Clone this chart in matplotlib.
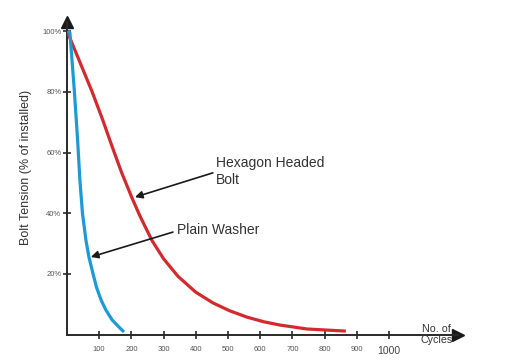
import matplotlib
matplotlib.use('Agg')
import matplotlib.pyplot as plt

plt.rcParams['font.family'] = ['Liberation Sans', 'DejaVu Sans']

# values (cycles, % of installed tension)
hex_cycles = [0, 39, 78, 110, 140, 170, 202, 227, 264, 300, 345, 400, 453, 505, 559, 610, 661, 745, 866]
hex_tension = [100, 90, 80, 71, 62, 53.3, 45, 39, 31, 25, 19.2, 14, 10.5, 7.9, 5.8, 4.3, 3.2, 1.9, 1.2]

washer_cycles = [3, 9, 23, 33, 40, 48, 59, 68, 81, 92, 106, 121, 140, 158, 177]
washer_tension = [100, 99.5, 80, 64, 51, 40, 31, 25.6, 20, 15.5, 11.4, 8.1, 4.9, 2.9, 0.9]

x_ticks = [100, 200, 300, 400, 500, 600, 700, 800, 900, 1000]
y_ticks = [20, 40, 60, 80, 100]
y_labels = ['20%', '40%', '60%', '80%', '100%']

x_max, y_max = 1215, 103
px_x, px_y = 0.322, 3.0375  # pixels per data unit

fig = plt.figure(figsize=(5.1, 3.6), dpi=100)
ax = fig.add_axes([67 / 510, 25.25 / 360, x_max * px_x / 510, y_max * px_y / 360])

ax.plot(hex_cycles, hex_tension, color='#d42a2e', lw=2.3, solid_capstyle='butt', zorder=3)
ax.plot(washer_cycles, washer_tension, color='#1c9ad8', lw=2.3, solid_capstyle='butt', zorder=3)

ax.set_xlim(0, x_max)
ax.set_ylim(0, y_max)

for s in ['top', 'right']:
    ax.spines[s].set_visible(False)
for s in ['left', 'bottom']:
    ax.spines[s].set_color('#2a2a2a')
    ax.spines[s].set_linewidth(1.4)

# arrow heads on the axes
ax.plot(1, 0, '>', color='#1a1a1a', ms=8, transform=ax.get_yaxis_transform(), clip_on=False)
ax.plot(0, 1, '^', color='#1a1a1a', ms=8, transform=ax.get_xaxis_transform(), clip_on=False)

ax.set_xticks(x_ticks)
ax.set_xticklabels([str(t) for t in x_ticks])
ax.set_yticks(y_ticks)
ax.set_yticklabels(y_labels)
ax.tick_params(axis='both', direction='inout', length=6, width=1.2, color='#2a2a2a',
               labelsize=5.5, labelcolor='#555555')
ax.tick_params(axis='x', pad=5)
ax.tick_params(axis='y', pad=1)
big = ax.get_xticklabels()[-1]
big.set_fontsize(7.5)
big.set_color('#444444')

ax.set_ylabel('Bolt Tension (% of installed)', fontsize=9, color='#333333')
ax.yaxis.set_label_coords(-35 / (x_max * px_x), (335 - 168) / (y_max * px_y))

ax.text(1148, 0, 'No. of\nCycles', fontsize=7.7, color='#333333', ha='center', va='center',
        linespacing=1.15)

arrow = dict(arrowstyle='-|>', color='#1a1a1a', lw=1.2, mutation_scale=11, shrinkA=0, shrinkB=0)
ax.annotate('', xy=(211, 45.3), xytext=(453, 53.3), arrowprops=arrow)
ax.text(463, 53.8, 'Hexagon Headed\nBolt', fontsize=10, color='#333333', ha='left', va='center',
        linespacing=1.25)
ax.annotate('', xy=(74, 25.6), xytext=(329, 33.8), arrowprops=arrow)
ax.text(342, 34.5, 'Plain Washer', fontsize=10, color='#333333', ha='left', va='center')

fig.savefig('out.png', dpi=100)
